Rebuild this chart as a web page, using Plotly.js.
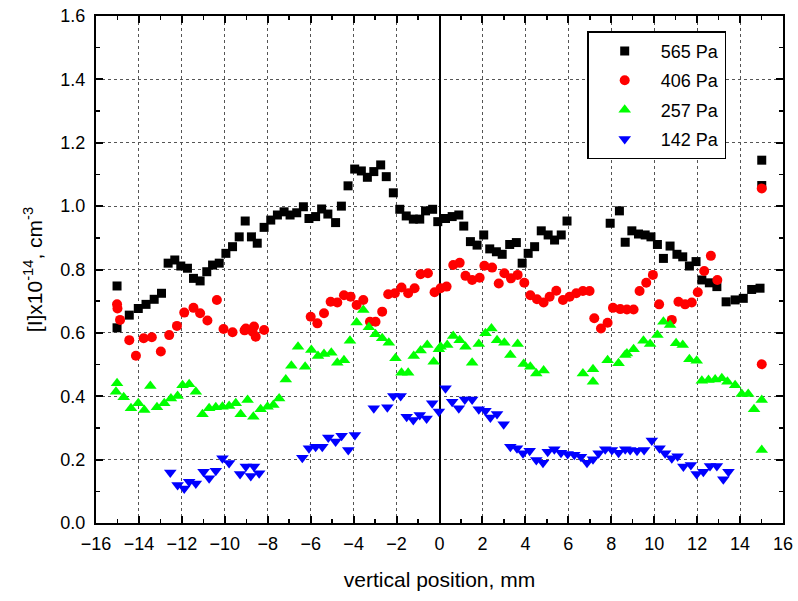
<!DOCTYPE html>
<html>
<head>
<meta charset="utf-8">
<script src="https://cdn.plot.ly/plotly-3.0.1.min.js"></script>
<style>html,body{margin:0;padding:0;background:#fff;}#chart{width:798px;height:601px;}</style>
</head>
<body>
<div id="chart"></div>
<script>
// 565 Pa (black squares)
const x565 = [-15.02,-15.02,-14.45,-14.03,-13.67,-13.29,-12.95,-12.64,-12.33,-12.05,-11.74,-11.46,-11.15,-10.84,-10.57,-10.26,-9.95,-9.64,-9.33,-9.05,-8.76,-8.49,-8.17,-7.86,-7.55,-7.24,-6.96,-6.65,-6.34,-6.08,-5.77,-5.49,-5.2,-4.84,-4.57,-4.26,-3.95,-3.64,-3.36,-3.06,-2.74,-2.48,-2.15,-1.85,-1.55,-1.22,-0.92,-0.65,-0.32,-0.08,0.28,0.59,0.90,1.13,1.44,1.75,2.06,2.34,2.65,2.92,3.27,3.58,3.85,4.13,4.43,4.74,5.06,5.36,5.67,5.94,7.95,8.38,8.65,8.96,9.27,9.58,9.85,10.15,10.43,10.74,11.06,11.33,11.64,11.95,12.22,12.57,12.92,13.35,13.77,14.15,14.54,14.93,15.01,15.01];
const y565 = [0.748,0.616,0.656,0.677,0.690,0.706,0.725,0.820,0.830,0.811,0.804,0.772,0.764,0.793,0.814,0.820,0.851,0.872,0.903,0.953,0.903,0.883,0.933,0.956,0.972,0.982,0.972,0.979,0.998,0.961,0.967,0.991,0.975,0.948,1.000,1.064,1.117,1.111,1.091,1.109,1.130,1.093,1.042,0.990,0.969,0.959,0.959,0.985,0.990,0.951,0.961,0.967,0.972,0.937,0.888,0.877,0.909,0.865,0.856,0.848,0.879,0.885,0.820,0.851,0.872,0.922,0.909,0.893,0.909,0.953,0.946,0.985,0.886,0.922,0.912,0.909,0.903,0.879,0.835,0.874,0.848,0.840,0.811,0.825,0.767,0.758,0.746,0.698,0.704,0.709,0.737,0.741,1.145,1.065];

// 406 Pa (red circles)
const x406 = [-15.02,-15.0,-14.88,-14.45,-14.14,-13.78,-13.40,-12.98,-12.59,-12.23,-11.89,-11.46,-11.15,-10.81,-10.37,-10.06,-9.64,-9.08,-9.02,-8.71,-8.64,-8.56,-8.17,-6.0,-5.69,-5.38,-5.07,-4.76,-4.45,-4.14,-3.86,-3.55,-3.24,-2.98,-2.67,-2.39,-2.08,-1.77,-1.46,-1.16,-0.88,-0.54,-0.23,0.05,0.33,0.64,0.94,1.21,1.52,1.87,2.09,2.45,2.76,3.02,3.33,3.64,3.95,4.23,4.54,4.85,5.13,5.44,5.75,6.06,6.37,6.68,6.99,7.21,7.52,7.83,8.08,8.42,8.73,9.04,9.32,9.63,9.94,10.23,10.82,11.13,11.44,11.75,12.03,12.33,12.64,12.94,15.01,15.01];
const y406 = [0.690,0.677,0.641,0.577,0.528,0.583,0.586,0.541,0.593,0.622,0.664,0.679,0.662,0.639,0.704,0.612,0.602,0.608,0.614,0.604,0.620,0.588,0.609,0.651,0.630,0.662,0.698,0.696,0.719,0.714,0.688,0.704,0.635,0.635,0.667,0.722,0.725,0.743,0.725,0.741,0.785,0.788,0.728,0.741,0.746,0.814,0.821,0.780,0.767,0.774,0.812,0.806,0.756,0.788,0.772,0.783,0.758,0.719,0.706,0.696,0.714,0.733,0.704,0.714,0.725,0.732,0.732,0.646,0.614,0.632,0.679,0.675,0.674,0.674,0.732,0.758,0.783,0.690,0.641,0.698,0.690,0.696,0.728,0.795,0.843,0.767,1.056,0.501];

// 257 Pa (green up-triangles)
const x257 = [-15.02,-15.07,-14.71,-14.37,-14.03,-13.75,-13.47,-13.16,-12.82,-12.51,-12.20,-11.97,-11.66,-11.35,-11.04,-10.73,-10.42,-10.11,-9.80,-9.49,-9.26,-8.94,-8.67,-8.33,-8.01,-7.74,-7.47,-7.16,-6.90,-6.59,-6.26,-5.97,-5.66,-5.38,-5.04,-4.76,-4.45,-4.17,-3.86,-3.55,-3.29,-2.98,-2.67,-2.36,-2.05,-1.77,-1.46,-1.20,-0.88,-0.57,-0.27,-0.03,0.05,0.36,0.64,0.94,1.21,1.52,1.83,2.14,2.42,2.68,3.02,3.30,3.64,3.92,4.23,4.51,4.85,6.68,7.15,7.15,7.83,8.34,8.65,8.73,9.04,9.5,9.81,10.15,10.43,10.74,11.02,11.33,11.64,11.98,12.22,12.53,12.84,13.15,13.41,13.77,14.08,14.38,14.65,15.01,15.01];
const y257 = [0.441,0.414,0.397,0.362,0.378,0.357,0.432,0.365,0.378,0.393,0.401,0.435,0.438,0.414,0.343,0.362,0.365,0.367,0.369,0.378,0.343,0.388,0.335,0.359,0.367,0.372,0.393,0.453,0.496,0.556,0.493,0.546,0.527,0.533,0.537,0.506,0.514,0.575,0.633,0.672,0.618,0.596,0.583,0.569,0.520,0.474,0.474,0.527,0.544,0.562,0.509,0.548,0.556,0.562,0.590,0.577,0.556,0.506,0.565,0.599,0.614,0.577,0.569,0.530,0.565,0.502,0.493,0.472,0.481,0.472,0.485,0.446,0.514,0.504,0.530,0.535,0.548,0.575,0.565,0.593,0.635,0.625,0.567,0.562,0.517,0.512,0.449,0.451,0.453,0.457,0.446,0.435,0.407,0.407,0.359,0.388,0.230];

// 142 Pa (blue down-triangles)
const x142 = [-12.54,-12.20,-11.89,-11.66,-11.35,-10.99,-10.73,-10.42,-10.11,-9.80,-9.29,-9.02,-8.79,-8.64,-8.40,-6.39,-6.08,-5.77,-5.46,-5.18,-4.84,-4.56,-4.25,-3.94,-3.06,-2.43,-2.15,-1.81,-1.53,-1.22,-0.92,-0.60,-0.34,-0.03,0.28,0.59,0.90,1.18,1.52,1.83,2.14,2.37,2.68,2.99,3.30,3.61,3.89,4.20,4.51,4.82,5.04,5.35,5.66,5.97,6.28,6.59,6.87,7.15,7.41,7.72,8.03,8.34,8.65,8.88,9.20,9.53,9.89,10.25,10.51,10.82,11.09,11.36,11.71,11.98,12.29,12.60,12.92,13.22,13.46];
const y142 = [0.159,0.120,0.109,0.130,0.125,0.162,0.141,0.165,0.204,0.189,0.155,0.178,0.148,0.178,0.157,0.206,0.236,0.241,0.241,0.270,0.257,0.275,0.230,0.278,0.362,0.365,0.401,0.401,0.335,0.325,0.341,0.330,0.378,0.352,0.425,0.383,0.362,0.390,0.390,0.359,0.354,0.333,0.344,0.312,0.241,0.236,0.220,0.228,0.199,0.190,0.225,0.233,0.222,0.218,0.215,0.209,0.190,0.201,0.220,0.233,0.230,0.222,0.233,0.230,0.228,0.230,0.260,0.236,0.220,0.204,0.211,0.178,0.183,0.155,0.162,0.180,0.180,0.138,0.162];

const names = ['565 Pa','406 Pa','257 Pa','142 Pa'];
const font = 'Liberation Sans, Arial, sans-serif';

const traces = [
  {x:x565, y:y565, name:names[0], legendgroup:'a', mode:'markers', type:'scatter',
   marker:{symbol:'square', size:9, color:'#000000'}},
  {x:x406, y:y406, name:names[1], legendgroup:'b', mode:'markers', type:'scatter',
   marker:{symbol:'circle', size:10, color:'#ff0000'}},
  {x:x257, y:y257, name:names[2], legendgroup:'c', mode:'markers', type:'scatter',
   marker:{symbol:'triangle-up', size:11, color:'#00ff00'}},
  {x:x142, y:y142, name:names[3], legendgroup:'d', mode:'markers', type:'scatter',
   marker:{symbol:'triangle-down', size:11, color:'#0000ff'}}
];

const axisCommon = {
  showline:true, linecolor:'#000', linewidth:2, mirror:'allticks',
  ticks:'inside', ticklen:7, tickwidth:2, tickcolor:'#000',
  showgrid:true, gridcolor:'#555', griddash:'dot', gridwidth:1,
  tickfont:{family:font, size:18, color:'#000'}
};

const layout = {
  width:798, height:601,
  margin:{l:96, r:15, t:16, b:78},
  paper_bgcolor:'#fff', plot_bgcolor:'#fff',
  showlegend:true,
  legend:{x:0.715, y:0.97, xanchor:'left', yanchor:'top',
    bgcolor:'#fff', bordercolor:'#000', borderwidth:1.5,
    font:{family:font, size:18, color:'#000'}, itemwidth:62,
    traceorder:'grouped', tracegroupgap:3},
  xaxis:Object.assign({}, axisCommon, {
    range:[-16,16], dtick:2, tick0:0,
    zeroline:true, zerolinecolor:'#000', zerolinewidth:2,
    ticklabelstandoff:3,
    minor:{ticks:'inside', dtick:1, ticklen:4, tickwidth:1.5, tickcolor:'#000', showgrid:false},
    title:{text:'vertical position, mm', font:{family:font, size:21, color:'#000'}, standoff:20}
  }),
  yaxis:Object.assign({}, axisCommon, {
    range:[0,1.6], dtick:0.2, tick0:0, tickformat:'.1f',
    zeroline:false, ticklabelstandoff:5,
    minor:{ticks:'inside', dtick:0.1, ticklen:4, tickwidth:1.5, tickcolor:'#000', showgrid:false},
    title:{text:'[I]x10<sup>-14</sup>, cm<sup>-3</sup>', font:{family:font, size:21, color:'#000'}, standoff:12}
  })
};

Plotly.newPlot('chart', traces, layout, {displayModeBar:false, staticPlot:true});
</script>
</body>
</html>
